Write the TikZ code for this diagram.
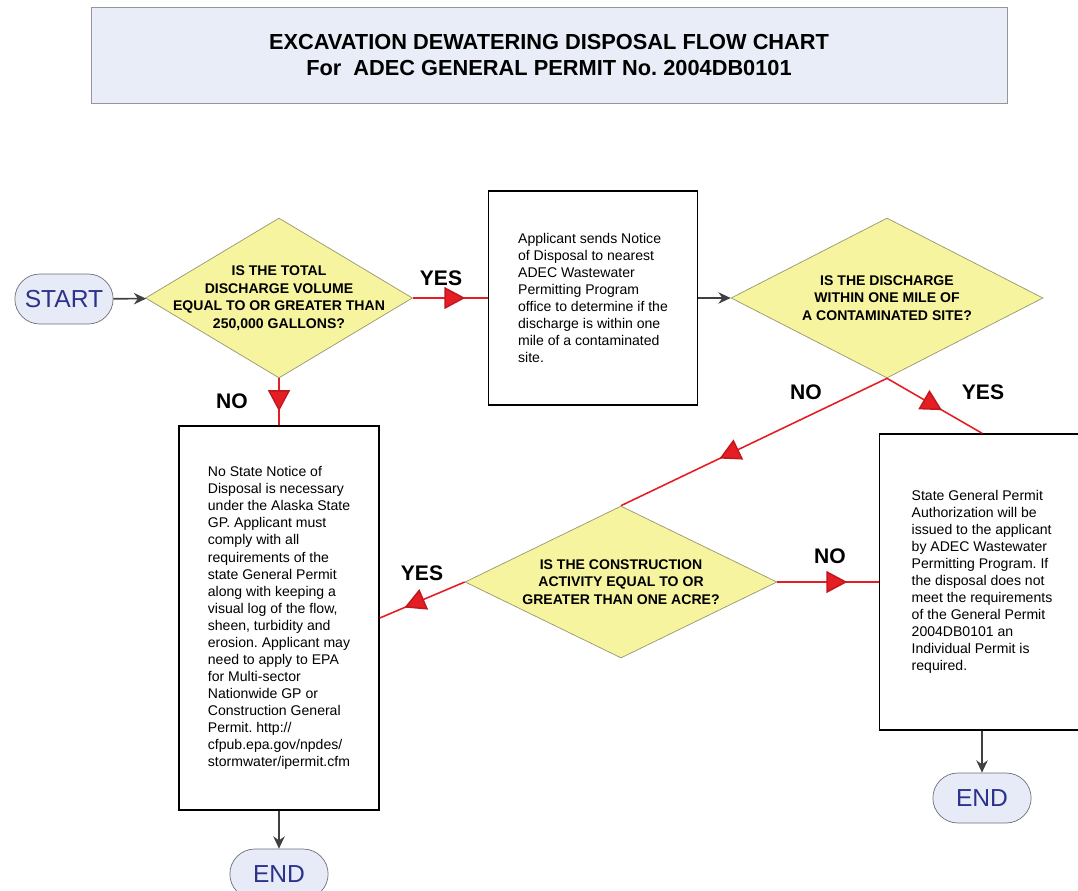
\documentclass[tikz,border=0pt]{standalone}
\usepackage{fontspec}
\setmainfont{Liberation Sans}
\usetikzlibrary{shapes.geometric,shapes.misc,arrows.meta,decorations.markings}
\frenchspacing

\definecolor{titlefill}{RGB}{233,237,247}
\definecolor{titledraw}{RGB}{150,150,150}
\definecolor{termfill}{RGB}{231,235,248}
\definecolor{termdraw}{RGB}{110,110,120}
\definecolor{termtext}{RGB}{43,50,140}
\definecolor{diafill}{RGB}{247,244,160}
\definecolor{diadraw}{RGB}{150,150,110}
\definecolor{flowred}{RGB}{228,30,36}
\definecolor{darkline}{RGB}{64,64,64}

\begin{document}
\begin{tikzpicture}[x=0.02cm, y=-0.02cm, >={Stealth[length=7pt, width=6.5pt]},
  every node/.style={font=\fontsize{8}{9.7}\selectfont},
  title/.style={draw=titledraw, fill=titlefill, minimum width=18.32cm,
    minimum height=1.92cm, align=center, font=\bfseries\fontsize{12.4}{15}\selectfont},
  terminal/.style={rounded rectangle, draw=termdraw, fill=termfill, text=termtext,
    minimum width=2.2cm, minimum height=1.0cm, font=\fontsize{14}{16}\selectfont},
  decision/.style={diamond, draw=diadraw, fill=diafill, inner sep=0pt},
  qtext/.style={align=center, font=\bfseries\fontsize{8}{10}\selectfont},
  stepbox/.style={draw=black, line width=0.9pt, fill=white, align=left},
  answer/.style={font=\bfseries\fontsize{12}{14}\selectfont},
  flow/.style={->, draw=darkline, line width=0.9pt},
  branch/.style={draw=flowred, line width=0.9pt, postaction=decorate,
    decoration={markings, mark=at position #1 with
      {\arrow{Triangle[length=0.42cm, width=0.44cm, fill=flowred, color=flowred!85!black]}}}},
  branch/.default=0.7]

\useasboundingbox (0,0) rectangle (1078,890);
\clip (0,0) rectangle (1078,890);

\node [title] (title) at (549,55)
  {EXCAVATION DEWATERING DISPOSAL FLOW CHART\\For\ \ ADEC GENERAL PERMIT No. 2004DB0101};

\node [terminal] (start) at (64,299) {START};

\node [decision, minimum width=5.34cm, minimum height=3.2cm,
  label={[qtext]center:{IS THE TOTAL\\DISCHARGE VOLUME\\EQUAL TO OR GREATER THAN\\250,000 GALLONS?}}]
  (q1) at (279,298) {};

\node [stepbox, minimum width=4.18cm, minimum height=4.28cm] (notice) at (593,298)
  {Applicant sends Notice\\of Disposal to nearest\\ADEC Wastewater\\Permitting Program\\office to determine if the\\discharge is within one\\mile of a contaminated\\site.};

\node [decision, minimum width=6.24cm, minimum height=3.2cm,
  label={[qtext]center:{IS THE DISCHARGE\\WITHIN ONE MILE OF\\A CONTAMINATED SITE?}}]
  (q2) at (887,298) {};

\node [stepbox, minimum width=4cm, minimum height=7.68cm] (nostate) at (279,618)
  {No State Notice of\\Disposal is necessary\\under the Alaska State\\GP. Applicant must\\comply with all\\requirements of the\\state General Permit\\along with keeping a\\visual log of the flow,\\sheen, turbidity and\\erosion. Applicant may\\need to apply to EPA\\for Multi-sector\\Nationwide GP or\\Construction General\\Permit. http://\\cfpub.epa.gov/npdes/\\stormwater/ipermit.cfm};

\node [decision, minimum width=6.24cm, minimum height=3.04cm,
  label={[qtext]center:{IS THE CONSTRUCTION\\ACTIVITY EQUAL TO OR\\GREATER THAN ONE ACRE?}}]
  (q3) at (621,582) {};

\node [stepbox, minimum width=4.1cm, minimum height=5.92cm] (authorize) at (982,582)
  {State General Permit\\Authorization will be\\issued to the applicant\\by ADEC Wastewater\\Permitting Program. If\\the disposal does not\\meet the requirements\\of the General Permit\\2004DB0101 an\\Individual Permit is\\required.};

\node [terminal] (endleft) at (279,874) {END};
\node [terminal] (endright) at (982,798) {END};

\node [answer] (yes1) at (441,278) {YES};
\node [answer] (no1) at (232,401) {NO};
\node [answer] (no2) at (806,392) {NO};
\node [answer] (yes2) at (983,392) {YES};
\node [answer] (yes3) at (422,573) {YES};
\node [answer] (no3) at (830,556) {NO};

\draw [flow] (start) -- (q1);
\draw [flow] (notice) -- (q2);
\draw [flow] (nostate) -- (endleft);
\draw [flow] (authorize) -- (endright);

\draw [branch] (q1) -- (notice);
\draw [branch] (q1.south) -- (nostate.north);
\draw [branch=0.63] (q2.south) -- (q3.north);
\draw [branch=0.58] (q2.south) -- (authorize.north);
\draw [branch=0.71] (q3.west) -- (nostate.east);
\draw [branch=0.69] (q3.east) -- (authorize.west);

\end{tikzpicture}
\end{document}
